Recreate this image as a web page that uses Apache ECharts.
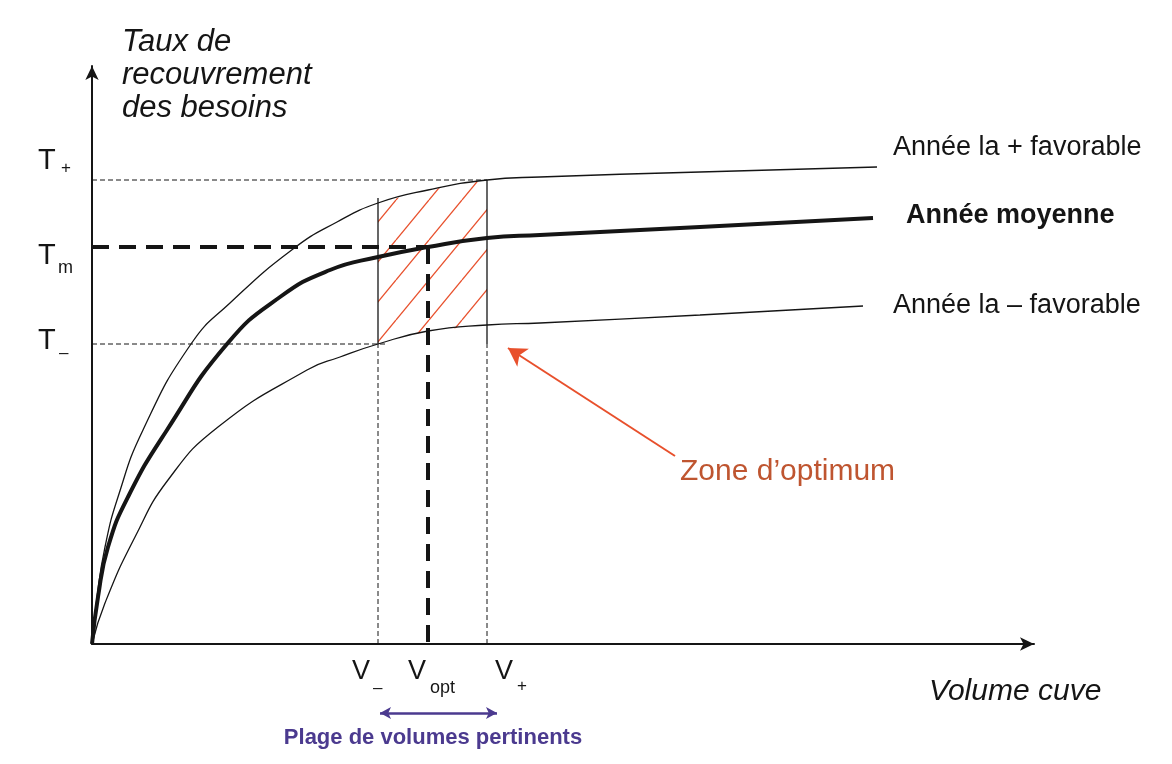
<!DOCTYPE html>
<html>
<head>
<meta charset="utf-8">
<script src="https://cdn.jsdelivr.net/npm/echarts@6/dist/echarts.min.js"></script>
<style>
  html, body { margin: 0; padding: 0; background: #fff; }
  #chart { width: 1172px; height: 764px; }
</style>
</head>
<body>
<div id="chart"></div>
<script>
var anneeFavorable = [[0, 0], [5, 47], [13, 97], [26, 147], [51, 214], [99, 300], [138, 341], [201, 395], [245, 422], [286, 441], [336, 454], [395, 464], [448, 467], [608, 472], [785, 477]]
var anneeMoyenne = [[0, 0], [6, 47], [16, 97], [36, 147], [75, 214], [135, 300], [188, 347], [238, 374], [286, 387], [336, 397], [395, 406], [448, 409], [608, 417], [781, 426]]
var anneeDefavorable = [[0, 0], [13, 41], [43, 107], [76, 164], [126, 217], [215, 274], [248, 287], [286, 300], [336, 313], [395, 319], [448, 321], [608, 329], [771, 338]]

// volumes et taux repères
var vMoins = 286, vOpt = 336, vPlus = 395
var tPlus = 464, tMoy = 397, tMoins = 300
var vMoinsHaut = 446 // haut du trait plein en V-
var finTMoins = 296

// flèche "Zone d'optimum" : queue, pointe
var flecheZone = [[583, 188], [416, 296]]

var noir = '#151515'
var orange = '#e8502c'
var violet = '#4b3a8f'
var police = 'Liberation Sans, Arial, sans-serif'

// motif de hachures
var hachure = document.createElement('canvas')
hachure.width = 33
hachure.height = 40
var cx = hachure.getContext('2d')
cx.strokeStyle = orange
cx.lineWidth = 1.3
;[-33, 0, 33].forEach(function (d) {
    cx.beginPath()
    cx.moveTo(d, 40)
    cx.lineTo(d + 33, 0)
    cx.stroke()
})

function courbe(nom, data, largeur) {
    return {
        name: nom,
        type: 'line',
        data: data,
        smooth: 0.5,
        symbol: 'none',
        silent: true,
        z: 3,
        lineStyle: { color: noir, width: largeur }
    }
}

function repere(data, largeur, type) {
    return {
        type: 'line',
        data: data,
        symbol: 'none',
        silent: true,
        z: 2,
        clip: false,
        lineStyle: { color: noir, width: largeur, type: type }
    }
}

var tirets = [5, 3]
var grosTirets = [17, 10]

function texte(t, x, y, taille, opts) {
    opts = opts || {}
    return {
        type: 'text',
        x: x,
        y: y,
        silent: true,
        style: {
            text: t,
            fontSize: taille,
            fontFamily: police,
            fontStyle: opts.italic ? 'italic' : 'normal',
            fontWeight: opts.bold ? 'bold' : 'normal',
            fill: opts.color || noir,
            align: opts.align || 'left',
            verticalAlign: opts.valign || 'middle',
            lineHeight: opts.lineHeight
        }
    }
}

var option = {
    animation: false,
    backgroundColor: '#fff',
    grid: { left: 92, right: 138, top: 66, bottom: 120 },
    xAxis: {
        type: 'value',
        min: 0,
        max: 942,
        axisLine: { show: true, symbol: ['none', 'arrow'], symbolSize: [10, 14], lineStyle: { color: noir, width: 2 } },
        axisTick: { show: false },
        axisLabel: { show: false },
        splitLine: { show: false }
    },
    yAxis: {
        type: 'value',
        min: 0,
        max: 578,
        axisLine: { show: true, symbol: ['none', 'arrow'], symbolSize: [10, 14], lineStyle: { color: noir, width: 2 } },
        axisTick: { show: false },
        axisLabel: { show: false },
        splitLine: { show: false }
    },
    series: [
        {
            // zone hachurée entre les deux courbes extrêmes
            type: 'custom',
            data: [[vMoins, tMoins]],
            z: 1,
            silent: true,
            clip: false,
            renderItem: function (params, api) {
                var haut = anneeFavorable.filter(function (p) { return p[0] >= vMoins && p[0] <= vPlus })
                var bas = anneeDefavorable.filter(function (p) { return p[0] >= vMoins && p[0] <= vPlus }).reverse()
                var pts = haut.concat(bas).map(function (p) { return api.coord(p) })
                return { type: 'polygon', shape: { points: pts }, style: { fill: { image: hachure, repeat: 'repeat' }, stroke: null } }
            }
        },
        courbe('Année la + favorable', anneeFavorable, 1.3),
        courbe('Année moyenne', anneeMoyenne, 4),
        courbe('Année la – favorable', anneeDefavorable, 1.3),
        repere([[0, tPlus], [vPlus, tPlus]], 1, tirets),
        repere([[0, tMoins], [finTMoins, tMoins]], 1, tirets),
        repere([[0, tMoy], [vOpt, tMoy]], 4, grosTirets),
        repere([[vOpt, tMoy], [vOpt, 0]], 4, grosTirets),
        repere([[vMoins, tMoins], [vMoins, vMoinsHaut]], 1.3, 'solid'),
        repere([[vMoins, 0], [vMoins, tMoins]], 1, tirets),
        repere([[vPlus, tMoins], [vPlus, tPlus]], 1.3, 'solid'),
        repere([[vPlus, 0], [vPlus, tMoins]], 1, tirets),
        {
            // flèches d'annotation
            type: 'line',
            data: [],
            clip: false,
            silent: true,
            markLine: {
                silent: true,
                animation: false,
                label: { show: false },
                data: [
                    [
                        { coord: flecheZone[0], symbol: 'none', lineStyle: { color: orange, width: 2, type: 'solid' } },
                        { coord: flecheZone[1], symbol: 'arrow', symbolSize: [16, 18] }
                    ],
                    [
                        { x: 380, y: 713, symbol: 'arrow', symbolSize: [9, 11], lineStyle: { color: violet, width: 2.5, type: 'solid' } },
                        { x: 497, y: 713, symbol: 'arrow', symbolSize: [9, 11] }
                    ]
                ]
            }
        }
    ],
    graphic: [
        texte('Taux de\nrecouvrement\ndes besoins', 122, 26, 31, { italic: true, valign: 'top', lineHeight: 33 }),
        texte('Volume cuve', 929, 692, 30, { italic: true }),
        texte('T', 38, 161, 29), texte('+', 61, 168, 17),
        texte('T', 38, 256, 29), texte('m', 58, 268, 18),
        texte('T', 38, 341, 29), texte('–', 59, 353, 17),
        texte('V', 352, 672, 27), texte('–', 373, 688, 17),
        texte('V', 408, 672, 27), texte('opt', 430, 688, 18),
        texte('V', 495, 672, 27), texte('+', 517, 686, 17),
        texte('Année la + favorable', 893, 148, 27),
        texte('Année moyenne', 906, 216, 27, { bold: true }),
        texte('Année la – favorable', 893, 306, 27),
        texte('Zone d’optimum', 680, 472, 30, { color: '#bf5530' }),
        texte('Plage de volumes pertinents', 433, 738, 22, { bold: true, color: violet, align: 'center' })
    ]
}

var chart = echarts.init(document.getElementById('chart'))
chart.setOption(option)
</script>
</body>
</html>
